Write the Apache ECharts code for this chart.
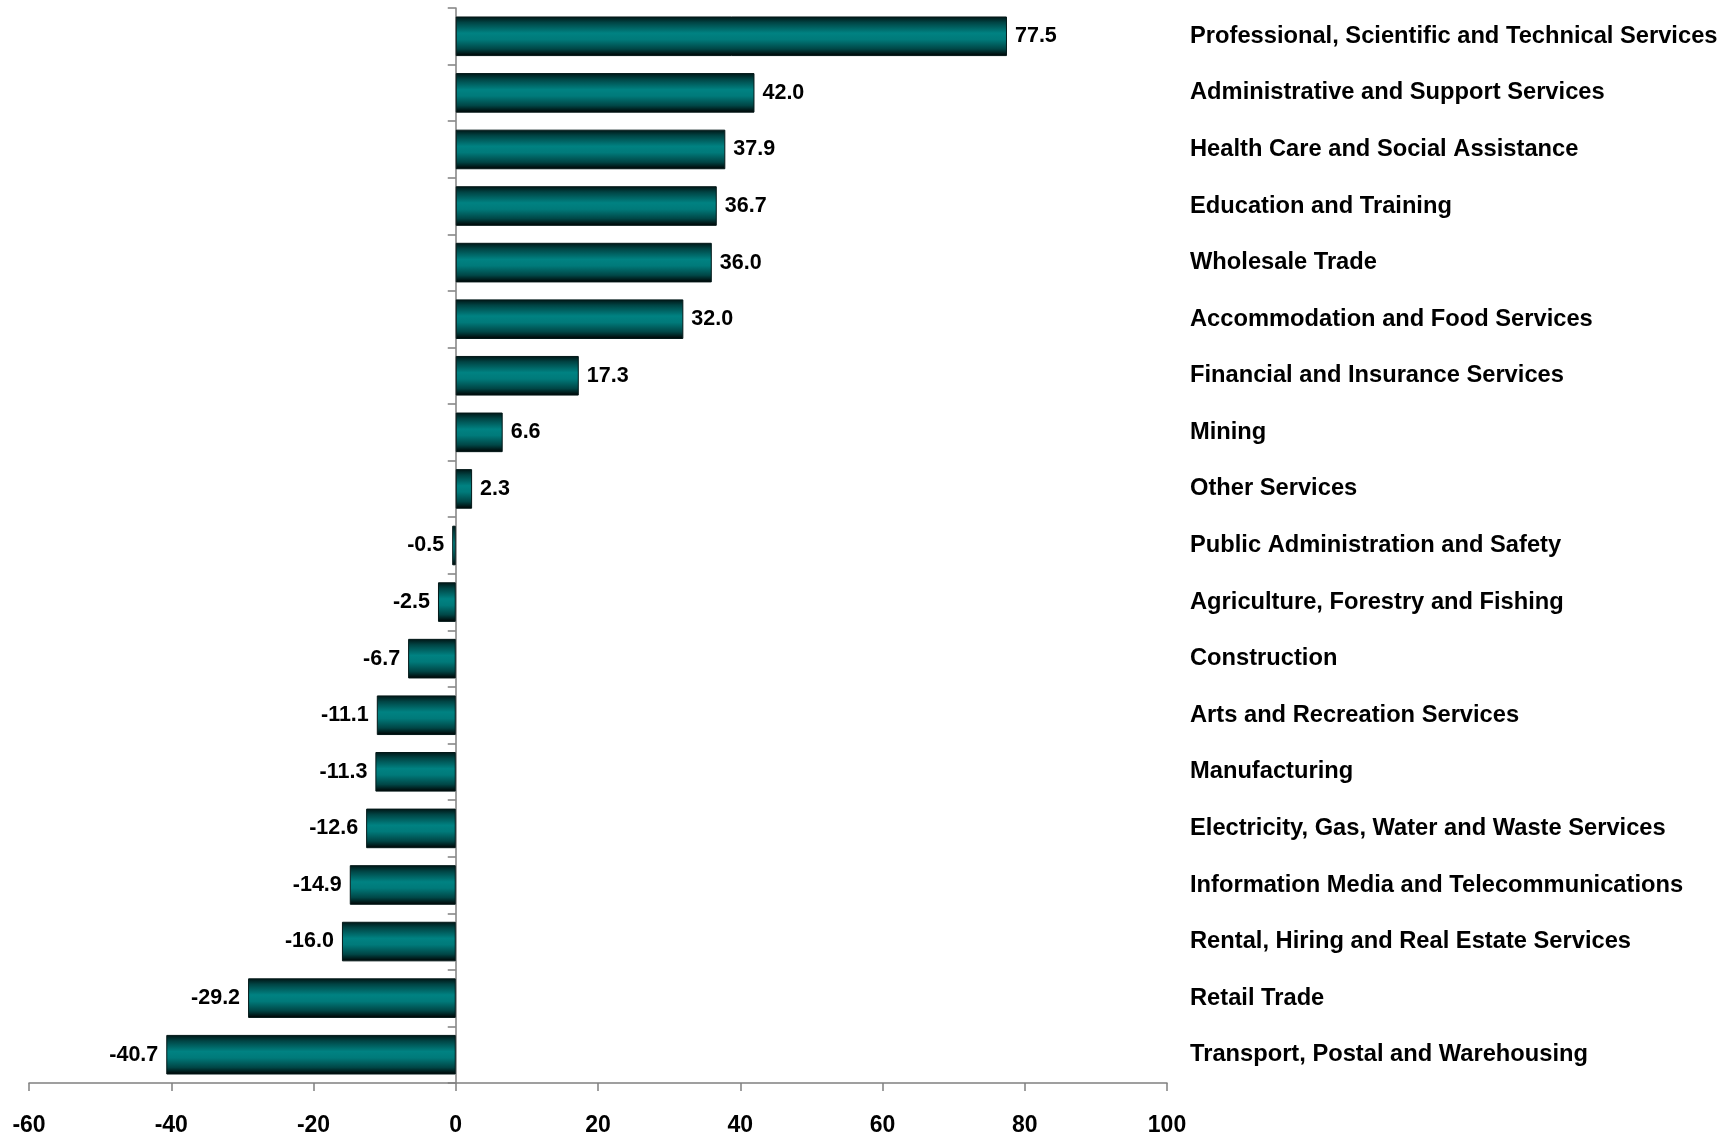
<!DOCTYPE html>
<html>
<head>
<meta charset="utf-8">
<script src="https://cdn.jsdelivr.net/npm/echarts@6/dist/echarts.min.js"></script>
<style>
html,body{margin:0;padding:0;background:#fff;}
#chart{width:1734px;height:1137px;}
</style>
</head>
<body>
<div id="chart"></div>
<script>
var categories = [
  "Professional, Scientific and Technical Services",
  "Administrative and Support Services",
  "Health Care and Social Assistance",
  "Education and Training",
  "Wholesale Trade",
  "Accommodation and Food Services",
  "Financial and Insurance Services",
  "Mining",
  "Other Services",
  "Public Administration and Safety",
  "Agriculture, Forestry and Fishing",
  "Construction",
  "Arts and Recreation Services",
  "Manufacturing",
  "Electricity, Gas, Water and Waste Services",
  "Information Media and Telecommunications",
  "Rental, Hiring and Real Estate Services",
  "Retail Trade",
  "Transport, Postal and Warehousing"
];
var values = [77.5, 42.0, 37.9, 36.7, 36.0, 32.0, 17.3, 6.6, 2.3, -0.5, -2.5, -6.7, -11.1, -11.3, -12.6, -14.9, -16.0, -29.2, -40.7];
var xMin = -60, xMax = 100, xInterval = 20;

var FONT = "'Liberation Sans', Arial, sans-serif";
var chart = echarts.init(document.getElementById('chart'), null, {renderer: 'canvas'});

var barColor = new echarts.graphic.LinearGradient(0, 0, 0, 1, [
  {offset: 0, color: '#001414'},
  {offset: 0.15, color: '#004444'},
  {offset: 0.42, color: '#008282'},
  {offset: 0.58, color: '#007a7a'},
  {offset: 0.82, color: '#004646'},
  {offset: 1, color: '#000000'}
]);

var option = {
  backgroundColor: '#ffffff',
  animation: false,
  grid: {left: 29, right: 567, top: 8, bottom: 53, containLabel: false},
  xAxis: {
    type: 'value',
    min: xMin, max: xMax, interval: xInterval,
    splitLine: {show: false},
    axisLine: {show: true, lineStyle: {color: '#808080', width: 1.5}},
    axisTick: {show: true, length: 8, lineStyle: {color: '#808080', width: 1.5}},
    axisLabel: {
      margin: 31, color: '#000', fontWeight: 'bold', fontSize: 23, fontFamily: FONT
    }
  },
  yAxis: [
    {
      type: 'category',
      data: categories,
      inverse: true,
      axisLine: {show: true, onZero: true, lineStyle: {color: '#808080', width: 1.5}},
      axisTick: {show: true, length: 8, lineStyle: {color: '#808080', width: 1.5}},
      axisLabel: {show: false}
    },
    {
      type: 'category',
      data: categories,
      inverse: true,
      position: 'right',
      axisLine: {show: false, onZero: false},
      axisTick: {show: false},
      axisLabel: {
        show: true, margin: 23, align: 'left', color: '#000',
        fontWeight: 'bold', fontSize: 23.7, fontFamily: FONT
      }
    }
  ],
  series: [{
    type: 'bar',
    yAxisIndex: 0,
    barWidth: '70%',
    itemStyle: {color: barColor, borderColor: '#031818', borderWidth: 1},
    label: {
      show: true,
      distance: 8,
      color: '#000',
      fontWeight: 'bold',
      fontSize: 21.5,
      fontFamily: FONT,
      formatter: function (p) { return p.value.toFixed(1); }
    },
    data: values.map(function (v) {
      return {value: v, label: {position: v < 0 ? 'left' : 'right'}};
    })
  }]
};
chart.setOption(option);
</script>
</body>
</html>
